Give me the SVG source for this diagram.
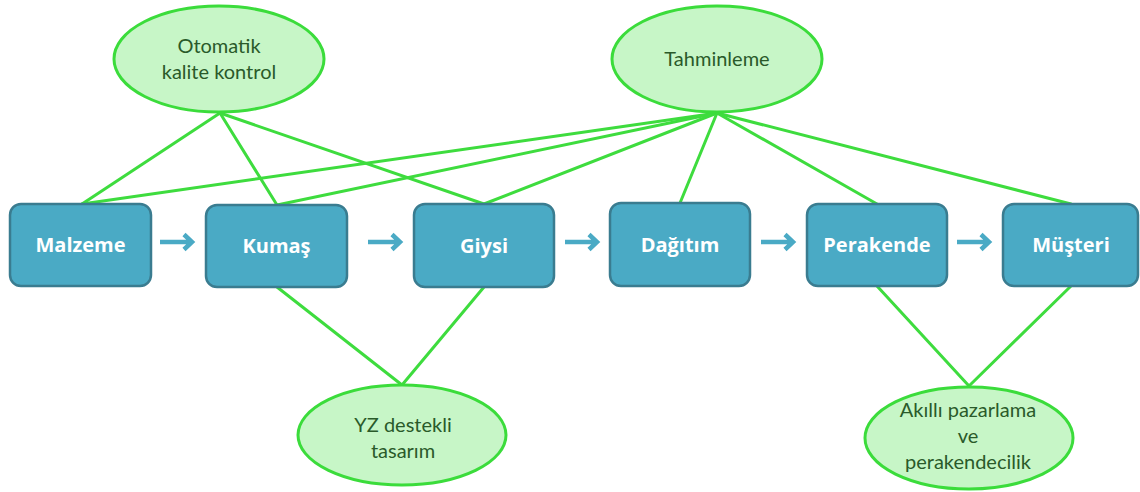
<svg xmlns="http://www.w3.org/2000/svg" width="1140" height="492" viewBox="0 0 1140 492">
<style>
.box{fill:#4aaac5;stroke:#3a7c90;stroke-width:2.5}
.bt{font-family:"Open Sans","Liberation Sans",sans-serif;font-weight:bold;font-size:20px;fill:#ffffff;text-anchor:middle}
.ell{fill:#c7f6c7;stroke:#3bdc3b;stroke-width:3}
.et{font-family:Lato,"Open Sans","Liberation Sans",sans-serif;font-size:20px;fill:#2a5a2a;text-anchor:middle}
.ln{stroke:#3edc3e;stroke-width:3;fill:none;stroke-linecap:round}
.ar{stroke:#4aaac5;stroke-width:4.5;fill:none}
</style>
<rect width="1140" height="492" fill="#ffffff"/>
<g id="connectors">
<line class="ln" x1="220" y1="113" x2="82" y2="204"/>
<line class="ln" x1="220" y1="113" x2="277" y2="205"/>
<line class="ln" x1="220" y1="113" x2="484" y2="204"/>
<line class="ln" x1="717" y1="113" x2="82" y2="204"/>
<line class="ln" x1="717" y1="113" x2="277" y2="205"/>
<line class="ln" x1="717" y1="113" x2="484" y2="204"/>
<line class="ln" x1="717" y1="113" x2="680" y2="203"/>
<line class="ln" x1="717" y1="113" x2="877" y2="204"/>
<line class="ln" x1="717" y1="113" x2="1071" y2="204"/>
<line class="ln" x1="277" y1="287" x2="402" y2="385"/>
<line class="ln" x1="484" y1="287" x2="402" y2="385"/>
<line class="ln" x1="877" y1="286" x2="969" y2="386"/>
<line class="ln" x1="1071" y1="286" x2="969" y2="386"/>
<g id="arrows">
<path class="ar" d="M160 242H192M184 234.5L192 242L184 249.5"/>
<path class="ar" d="M368 242H400M392 234.5L400 242L392 249.5"/>
<path class="ar" d="M565 242H597M589 234.5L597 242L589 249.5"/>
<path class="ar" d="M761 242H793M785 234.5L793 242L785 249.5"/>
<path class="ar" d="M957 242H989M981 234.5L989 242L981 249.5"/>
</g>
</g>
<g id="malzeme"><rect class="box" x="10" y="204" width="141" height="82" rx="11"/><text class="bt" x="80.5" y="252">Malzeme</text></g>
<g id="kumas"><rect class="box" x="206" y="205" width="141" height="82" rx="11"/><text class="bt" x="276.5" y="253">Kumaş</text></g>
<g id="giysi"><rect class="box" x="414" y="204" width="140" height="83" rx="11"/><text class="bt" x="484" y="253">Giysi</text></g>
<g id="dagitim"><rect class="box" x="610" y="203" width="140" height="83" rx="11"/><text class="bt" x="680" y="252">Dağıtım</text></g>
<g id="perakende"><rect class="box" x="807" y="204" width="140" height="82" rx="11"/><text class="bt" x="877" y="252">Perakende</text></g>
<g id="musteri"><rect class="box" x="1003" y="204" width="135" height="82" rx="11"/><text class="bt" x="1071" y="252">Müşteri</text></g>
<g id="otomatik"><ellipse class="ell" cx="219" cy="59" rx="105" ry="53"/><text class="et" x="219" y="53">Otomatik</text><text class="et" x="219" y="79">kalite kontrol</text></g>
<g id="tahminleme"><ellipse class="ell" cx="717" cy="59" rx="105" ry="53"/><text class="et" x="717" y="66">Tahminleme</text></g>
<g id="yz"><ellipse class="ell" cx="402" cy="435" rx="104" ry="50"/><text class="et" x="403" y="432">YZ destekli</text><text class="et" x="403" y="458">tasarım</text></g>
<g id="akilli"><ellipse class="ell" cx="969" cy="438" rx="104" ry="51"/><text class="et" x="968" y="417">Akıllı pazarlama</text><text class="et" x="968" y="443">ve</text><text class="et" x="968" y="469">perakendecilik</text></g>
</svg>
